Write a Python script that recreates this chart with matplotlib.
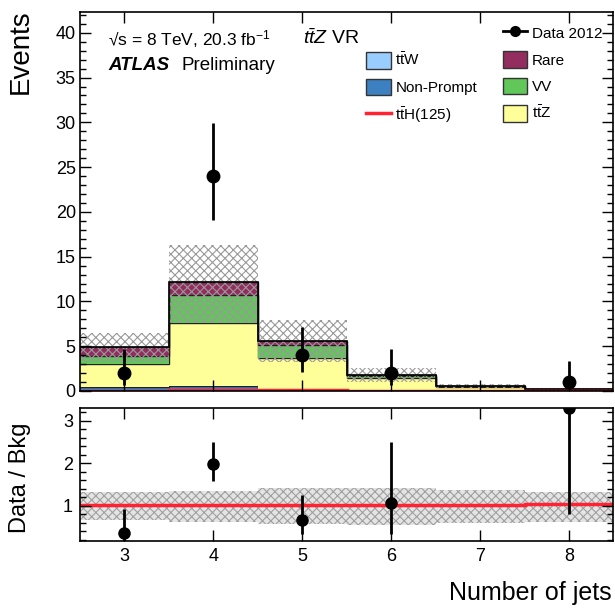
import numpy as np
import matplotlib
matplotlib.use("Agg")
import matplotlib.pyplot as plt
from matplotlib.patches import Patch
from matplotlib.lines import Line2D
from matplotlib.ticker import MultipleLocator

plt.rcParams['font.family'] = ['Liberation Sans', 'DejaVu Sans']
plt.rcParams['mathtext.fontset'] = 'custom'
plt.rcParams['mathtext.rm'] = 'Liberation Sans'
plt.rcParams['mathtext.it'] = 'Liberation Sans:italic'
plt.rcParams['mathtext.bf'] = 'Liberation Sans:bold'
plt.rcParams['hatch.linewidth'] = 0.8

# jet multiplicity bins
njets = np.array([3, 4, 5, 6, 7, 8])
edges = np.arange(2.5, 9.0, 1.0)

# expected yields per bin
ttW = np.array([0.15, 0.20, 0.10, 0.05, 0.01, 0.01])
nonprompt = np.array([0.30, 0.35, 0.15, 0.05, 0.02, 0.02])
ttZ = np.array([2.53, 7.00, 3.40, 1.30, 0.45, 0.12])
VV = np.array([0.93, 3.14, 1.45, 0.25, 0.04, 0.02])
rare = np.array([0.97, 1.44, 0.49, 0.15, 0.04, 0.03])
ttH = np.array([0.05, 0.12, 0.06, 0.05, 0.017, 0.01])

# relative syst. band (up / down)
band_up = np.array([1.32, 1.34, 1.41, 1.41, 1.38, 1.33])
band_dn = np.array([0.66, 0.63, 0.57, 0.55, 0.59, 0.63])

# data 2012 with poisson intervals
data = np.array([2, 24, 4, 2, np.nan, 1])
data_lo = np.array([0.71, 19.1, 2.09, 0.71, np.nan, 0.17])
data_hi = np.array([4.64, 29.9, 7.16, 4.64, np.nan, 3.30])

# data / bkg
ratio = np.array([0.37, 1.99, 0.68, 1.06, np.nan, 3.30])
ratio_lo = np.array([0.10, 1.59, 0.35, 0.35, np.nan, 0.82])
ratio_hi = np.array([0.93, 2.50, 1.26, 2.50, np.nan, 5.00])

c_ttW = '#99ccff'
c_np = '#3d80c2'
c_rare = '#932d5f'
c_vv = '#61c759'
c_ttz = '#ffff99'
c_tth = '#ff2233'

fig = plt.figure(figsize=(6.15, 6.09), dpi=100)
ax = fig.add_axes([0.130, 0.358, 0.8675, 0.622])
rax = fig.add_axes([0.130, 0.112, 0.8675, 0.218])

# stack: ttW, non-prompt, ttZ, VV, rare
layers = [(ttW, c_ttW), (nonprompt, c_np), (ttZ, c_ttz), (VV, c_vv), (rare, c_rare)]
base = np.zeros(len(njets))
for vals, col in layers:
    top = base + vals
    ax.stairs(top, edges, baseline=base, fill=True, facecolor=col, edgecolor='none')
    ax.stairs(top, edges, baseline=None, color='#222222', lw=1.0)
    base = top
total = base

ax.stairs(total * band_up, edges, baseline=total * band_dn, fill=True,
          facecolor='none', edgecolor='#999999', hatch='xxxx', lw=0)
ax.stairs(total, edges, baseline=None, color='black', lw=1.2)
ax.stairs(ttH, edges, baseline=None, color=c_tth, lw=2.5)

ax.errorbar(njets, data, yerr=[data - data_lo, data_hi - data], fmt='o', color='black',
            ms=9, elinewidth=2, capsize=0)

ax.set_xlim(2.5, 8.5)
ax.set_ylim(0, 42.3)
ax.yaxis.set_major_locator(MultipleLocator(5))
ax.yaxis.set_minor_locator(MultipleLocator(1))
ax.xaxis.set_major_locator(MultipleLocator(1))
ax.tick_params(axis='both', which='both', direction='in', top=True, right=True)
ax.tick_params(which='major', length=8, width=1, labelsize=13, pad=3)
ax.tick_params(which='minor', length=4.5, width=1)
ax.tick_params(axis='x', labelbottom=False)

# ratio panel
rax.stairs(band_up, edges, baseline=band_dn, fill=True, facecolor='#e4e4e4',
           edgecolor='#a0a0a0', hatch='xxxx', lw=0)
rax.stairs((total + ttH) / total, edges, baseline=None, color=c_tth, lw=2.5)
rax.errorbar(njets, ratio, yerr=[ratio - ratio_lo, ratio_hi - ratio], fmt='o',
             color='black', ms=8, elinewidth=2, capsize=0)
rax.set_xlim(2.5, 8.5)
rax.set_ylim(0.18, 3.3)
rax.yaxis.set_major_locator(MultipleLocator(1))
rax.yaxis.set_minor_locator(MultipleLocator(0.2))
rax.xaxis.set_major_locator(MultipleLocator(1))
rax.tick_params(axis='both', which='both', direction='in', top=True, right=True)
rax.tick_params(which='major', length=8, width=1, labelsize=13, pad=5)
rax.tick_params(which='minor', length=4.5, width=1)

for a in (ax, rax):
    for s in a.spines.values():
        s.set_linewidth(1.2)

fig.text(0.034, 0.984, 'Events', rotation=90, ha='center', va='top', fontsize=20)
fig.text(0.033, 0.215, 'Data / Bkg', rotation=90, ha='center', va='center', fontsize=17)
fig.text(0.995, 0.015, 'Number of jets', ha='right', va='baseline', fontsize=18)

ax.text(0.0525, 0.913, '\u221as = 8 TeV, 20.3 fb$^{-1}$', transform=ax.transAxes,
        fontsize=12.5, va='baseline')
ax.text(0.0525, 0.847, 'ATLAS', transform=ax.transAxes, fontsize=13.5,
        fontweight='bold', fontstyle='italic', va='baseline')
ax.text(0.191, 0.847, 'Preliminary', transform=ax.transAxes, fontsize=13.5, va='baseline')
ax.text(0.418, 0.916, r'$t\bar{t}Z$ VR', transform=ax.transAxes, fontsize=14, va='baseline')

# legends
left_handles = [Patch(facecolor=c_ttW, edgecolor='#333333'),
                Patch(facecolor=c_np, edgecolor='#333333'),
                Line2D([], [], color=c_tth, lw=2.5)]
left_labels = [r'$\mathrm{t\bar{t}W}$', 'Non-Prompt', r'$\mathrm{t\bar{t}H(125)}$']
leg1 = ax.legend(left_handles, left_labels, loc='upper left', bbox_to_anchor=(0.537, 0.896),
                 frameon=False, fontsize=11, handlelength=1.6, handleheight=1.3,
                 handletextpad=0.3, labelspacing=0.65, borderpad=0, borderaxespad=0)
ax.add_artist(leg1)

data_handle = Line2D([], [], color='black', marker='o', ms=7, lw=2)
right_handles = [data_handle,
                 Patch(facecolor=c_rare, edgecolor='#333333'),
                 Patch(facecolor=c_vv, edgecolor='#333333'),
                 Patch(facecolor=c_ttz, edgecolor='#333333')]
right_labels = ['Data 2012', 'Rare', 'VV', r'$\mathrm{t\bar{t}Z}$']
ax.legend(right_handles, right_labels, loc='upper left', bbox_to_anchor=(0.793, 0.967),
          frameon=False, fontsize=11, handlelength=1.6, handleheight=1.3,
          handletextpad=0.3, labelspacing=0.65, borderpad=0, borderaxespad=0)

fig.savefig('out.png', dpi=100)
